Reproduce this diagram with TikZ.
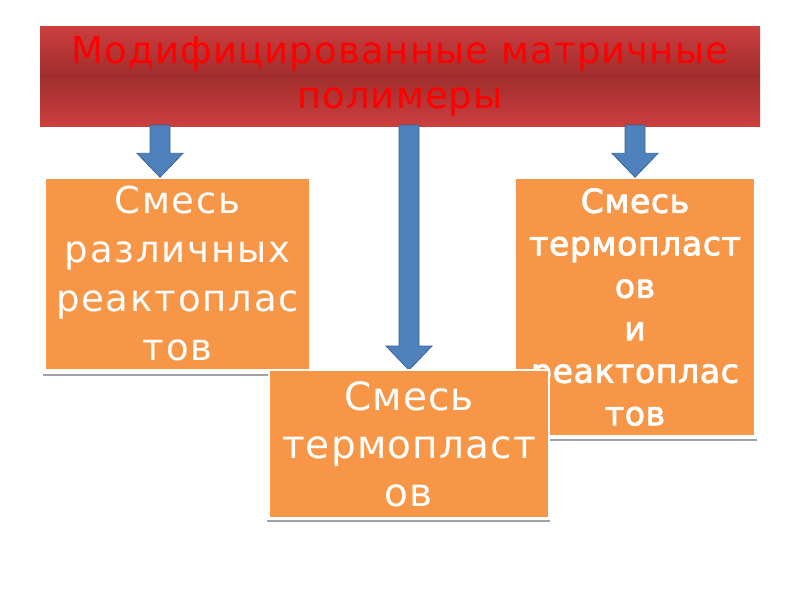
\documentclass[tikz,border=0pt]{standalone}
\usepackage{fontspec}
\setmainfont{DejaVu Sans}
\usetikzlibrary{calc}
\definecolor{boxor}{HTML}{F79646}
\definecolor{arrfill}{HTML}{4F81BD}
\definecolor{arrline}{HTML}{3A6396}
\definecolor{titletop}{HTML}{CC3E3E}
\definecolor{titlemid}{HTML}{A02E2E}
\definecolor{shadowg}{HTML}{A0A0A8}
\tikzset{
  titlebox/.style={rectangle, minimum width=720pt, minimum height=100pt, inner sep=0pt,
    top color=titletop, bottom color=titletop, middle color=titlemid,
    text=red, align=center, font=\fontsize{37}{45}\selectfont\addfontfeature{LetterSpace=3}},
  obox/.style={rectangle, fill=boxor, draw=white, line width=1.5pt, inner sep=0pt,
    text=white, align=center},
  barrow/.style={fill=arrfill, draw=arrline, line width=0.8pt, line join=miter},
  shline/.style={draw=shadowg, line width=1.5pt},
}
\newcommand\blockarrow[2]{%
  \draw[barrow] let \p1=(#1), \p2=(#2) in
    (\x1-10pt,\y1) -- (\x1-10pt,\y2+24pt) -- (\x1-23pt,\y2+24pt) -- (\x1,\y2)
    -- (\x1+23pt,\y2+24pt) -- (\x1+10pt,\y2+24pt) -- (\x1+10pt,\y1) -- cycle;}
\begin{document}
\begin{tikzpicture}[x=1pt,y=-1pt]
\useasboundingbox (0,0) rectangle (800,600);
\fill[white] (0,0) rectangle (800,600);
% title
\draw[shline] (40,126) -- (760,126);
\node[titlebox] (title) at (400,76) {Модифицированные матричные\\полимеры};
\coordinate (a1) at (160,125);
\coordinate (a2) at (409,125);
\coordinate (a3) at (635,125);
% left box
\draw[shline] (43,375) -- (311,375);
\node[obox, minimum width=265pt, minimum height=192pt,
  font=\fontsize{37}{49}\selectfont\addfontfeature{LetterSpace=5}] (b1) at (177.5,274)
  {Смесь\\различных\\реактоплас\\тов};
% right box
\draw[shline] (515,440) -- (757,440);
\node[obox, minimum width=240pt, minimum height=258pt,
  font=\fontsize{33}{42.5}\selectfont\addfontfeature{FakeBold=2.5,LetterSpace=2}] (b3) at (635,307)
  {Смесь\\термопласт\\ов\\и\\реактоплас\\тов};
\blockarrow{a1}{a1 |- b1.north}
\blockarrow{a3}{a3 |- b3.north}
% middle
\draw[shline] (267,521) -- (550,521);
\coordinate (m2) at (409,370);
\blockarrow{a2}{m2}
\node[obox, minimum width=280pt, minimum height=148pt,
  font=\fontsize{39}{48}\selectfont\addfontfeature{LetterSpace=3}] (b2) at (409,444)
  {Смесь\\термопласт\\ов};
\end{tikzpicture}
\end{document}
